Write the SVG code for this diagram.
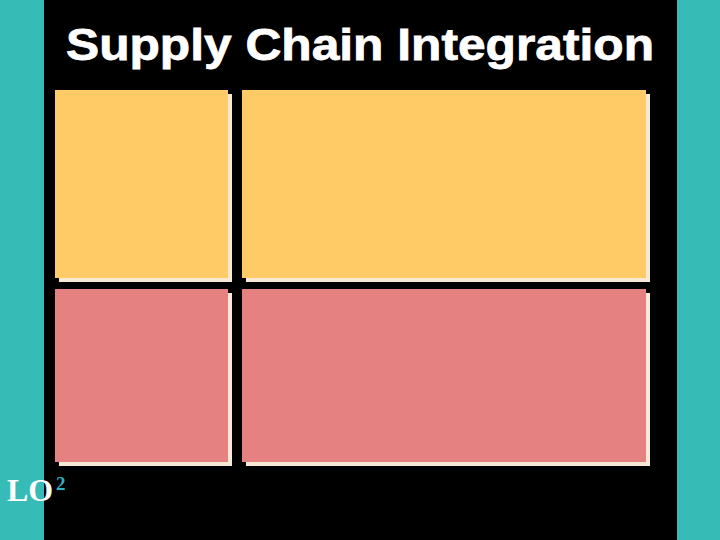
<svg xmlns="http://www.w3.org/2000/svg" width="720" height="540" viewBox="0 0 720 540">
<style>
.shadow{fill:#F7E9D6}
.yellow{fill:#FECB66}
.pink{fill:#E68182}
.title{font-family:"Liberation Sans",Arial,sans-serif;font-weight:bold;font-size:44px;fill:#FFFFFF;stroke:#FFFFFF;stroke-width:0.8}
.lo{font-family:"Liberation Serif","Times New Roman",serif;font-weight:bold;font-size:32px;fill:#FFFFFF}
.sup{font-family:"Liberation Serif","Times New Roman",serif;font-weight:bold;font-size:19px;fill:#2FB0C2}
</style>
<rect x="0" y="0" width="720" height="540" fill="#000000"/>
<rect x="0" y="0" width="44" height="540" fill="#37BBB6"/>
<rect x="677" y="0" width="43" height="540" fill="#37BBB6"/>
<text class="title" x="360" y="60" text-anchor="middle" textLength="588" lengthAdjust="spacingAndGlyphs">Supply Chain Integration</text>
<g id="box-top-left">
<rect class="shadow" x="59" y="94" width="173" height="188"/>
<rect class="yellow" x="55" y="90" width="173" height="188"/>
</g>
<g id="box-top-right">
<rect class="shadow" x="246" y="94" width="404" height="188"/>
<rect class="yellow" x="242" y="90" width="404" height="188"/>
</g>
<g id="box-bottom-left">
<rect class="shadow" x="59" y="293" width="173" height="173"/>
<rect class="pink" x="55" y="289" width="173" height="173"/>
</g>
<g id="box-bottom-right">
<rect class="shadow" x="246" y="293" width="404" height="173"/>
<rect class="pink" x="242" y="289" width="404" height="173"/>
</g>
<g id="connectors"/>
<text class="lo" x="7" y="501">LO</text>
<text class="sup" x="56" y="490">2</text>
</svg>
